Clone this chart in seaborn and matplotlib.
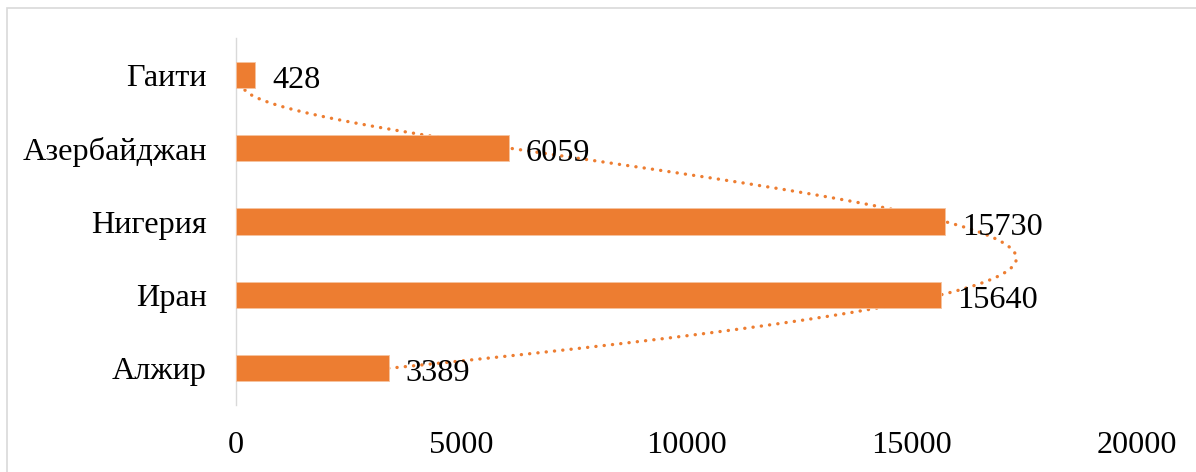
import numpy as np
import pandas as pd
import matplotlib
matplotlib.use("Agg")
import matplotlib.pyplot as plt
import seaborn as sns
from matplotlib.patches import Rectangle

# ---- data (top-to-bottom order as shown) ----
countries = ["Гаити", "Азербайджан", "Нигерия", "Иран", "Алжир"]
values = [428, 6059, 15730, 15640, 3389]
x_ticks = [0, 5000, 10000, 15000, 20000]
x_tick_labels = ["0", "5000", "10000", "15000", "20000"]

BAR = "#ED7D31"
W, H = 1196, 472
FS = 23.2

sns.set_theme(style="white")
plt.rcParams["font.family"] = ["Liberation Serif", "DejaVu Serif"]
plt.rcParams["text.color"] = "black"

fig = plt.figure(figsize=(W / 100, H / 100), dpi=100)
ax = fig.add_axes([236 / W, 1 - 405 / H, (1137 - 236) / W, (405 - 38) / H])

df = pd.DataFrame({"country": countries, "value": values})
sns.barplot(data=df, x="value", y="country", orient="h", color=BAR,
            saturation=1, width=0.355, edgecolor="#F6C3A0", linewidth=0.6,
            ax=ax, zorder=3)

# polynomial (degree 4) trendline, Excel-style: series index 1..n from bottom
n = len(values)
pos = np.arange(n)                 # 0 = top
idx = n - pos                      # Excel series index
coef = np.polyfit(idx, values, 4)
t = np.linspace(1, n, 400)
ax.plot(np.polyval(coef, t), n - t, color=BAR, lw=2.4,
        linestyle=(0, (0.05, 2.45)), dash_capstyle="round", zorder=2)

for p, v in zip(pos, values):
    ax.annotate(str(v), xy=(v, p), xytext=(17, -13), textcoords="offset pixels",
                ha="left", va="baseline", fontsize=FS, color="black", zorder=5)

ax.set_xlim(0, 20000)
ax.set_ylim(n - 0.5, -0.5)
ax.set_xticks(x_ticks, x_tick_labels)
ax.tick_params(axis="x", length=0, pad=18.5, labelsize=FS, colors="black")
ax.tick_params(axis="y", length=0, pad=21, labelsize=FS, colors="black")
ax.set_xlabel("")
ax.set_ylabel("")
for s in ["top", "right", "bottom"]:
    ax.spines[s].set_visible(False)
ax.spines["left"].set_color("#D9D9D9")
ax.spines["left"].set_linewidth(1.0)
ax.grid(False)

# chart-area border (cropped on right/bottom)
fig.patches.append(Rectangle((7 / W, -0.2), 1.5, 0.2 + (H - 8) / H,
                             transform=fig.transFigure, fill=False,
                             edgecolor="#D9D9D9", lw=1.2))

fig.savefig("out.png", dpi=100)
